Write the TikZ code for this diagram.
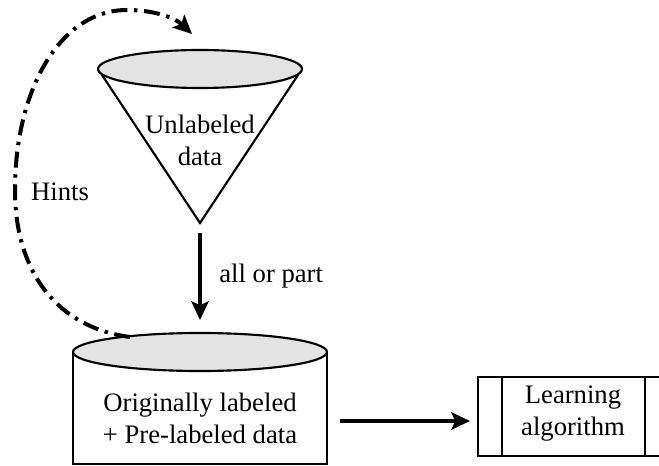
\documentclass[tikz,border=0pt]{standalone}
\usepackage{fontspec}
\setmainfont{Liberation Serif}
\usetikzlibrary{arrows.meta}
\begin{document}
\begin{tikzpicture}[x=0.75pt,y=-0.75pt,
  shapeline/.style={line width=1.6pt},
  fillgray/.style={fill=black!11},
  mainarrow/.style={line width=3pt,-{Stealth[length=14pt,width=13pt,inset=3pt]}},
  hintline/.style={line width=3pt,dash pattern=on 12pt off 5pt on 2.5pt off 5pt,-{Stealth[length=14pt,width=13pt,inset=3pt]}},
  lbl/.style={font=\fontsize{20}{24}\selectfont,align=center,inner sep=0pt}]
\useasboundingbox (0,0) rectangle (659,466);
\clip (0,0) rectangle (659,466);
% funnel
\draw[shapeline,fill=white] (102,75) -- (200,223) -- (298,75);
\draw[shapeline,fillgray] (200,69) ellipse [x radius=102,y radius=19];
\node[lbl] (unl) at (200,140) {Unlabeled\\data};
\coordinate (apex) at (200,223);
% cylinder
\draw[shapeline,fill=white] (73,352) -- (73,464) -- (327,464) -- (327,352);
\draw[shapeline,fillgray] (200,352) ellipse [x radius=127,y radius=19];
\node[lbl] (orig) at (200,418) {Originally labeled\\+ Pre-labeled data};
\coordinate (cyltop) at (200,333);
% learning algorithm box
\draw[shapeline] (478,377) rectangle (680,456);
\draw[shapeline] (502,377) -- (502,456);
\draw[shapeline] (645,377) -- (645,456);
\node[lbl] (learn) at (573,414) {Learning\\algorithm};
% arrows
\draw[mainarrow] (200,233) -- (200,320) node[lbl,midway,right=13pt,anchor=west] (aop) {all or part};
\coordinate (hstart) at (340,421);
\coordinate (hend) at (470,421);
\draw[mainarrow] (hstart) -- (hend);
% hints
\coordinate (hs) at (130,337);
\coordinate (ht) at (192,34);
\draw[hintline] (hs) .. controls (60,328) and (15,275) .. (15,190)
   .. controls (15,90) and (60,10) .. (127,10)
   .. controls (155,10) and (175,18) .. (ht);
\node[lbl] (hints) at (60,192) {Hints};
\end{tikzpicture}
\end{document}
